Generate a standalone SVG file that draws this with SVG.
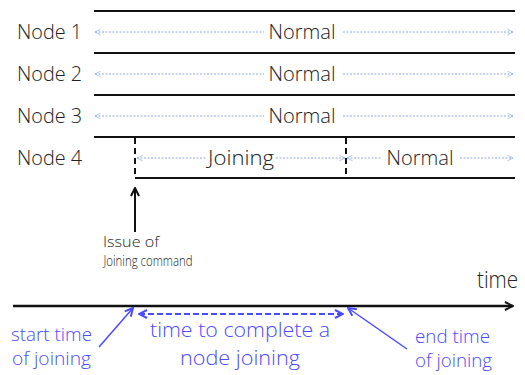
<svg xmlns="http://www.w3.org/2000/svg" width="525" height="375" viewBox="0 0 525 375">
<defs>
<style>
text{font-family:"Open Sans","Liberation Sans",sans-serif;font-weight:300}
.lbl{font-size:21px;fill:#222}
.st{font-size:21px;fill:#222;text-anchor:middle}
.sm{font-size:14px;fill:#222;text-anchor:middle}
.bl{fill:#4a4aff}
.row{stroke:#111;stroke-width:2;fill:none}
.dot{stroke:#8eaadb;stroke-width:1;stroke-dasharray:2 1.5;fill:none}
.vd{stroke:#111;stroke-width:2;stroke-dasharray:6 4;fill:none}
.blu{stroke:#4a4aff;stroke-width:1.5;fill:none}
</style>
<marker id="dh" viewBox="0 0 10 10" refX="9" refY="5" markerWidth="7" markerHeight="7" orient="auto-start-reverse" markerUnits="userSpaceOnUse">
<path d="M1,1 L9,5 L1,9" fill="none" stroke="#8eaadb" stroke-width="1"/>
</marker>
<marker id="bk" viewBox="0 0 10 10" refX="9" refY="5" markerWidth="10" markerHeight="10" orient="auto" markerUnits="userSpaceOnUse">
<path d="M1,1 L9,5 L1,9" fill="none" stroke="#111" stroke-width="2"/>
</marker>
<marker id="bb" viewBox="0 0 10 10" refX="9" refY="5" markerWidth="10" markerHeight="10" orient="auto-start-reverse" markerUnits="userSpaceOnUse">
<path d="M1,1 L9,5 L1,9" fill="none" stroke="#4a4aff" stroke-width="2"/>
</marker>
</defs>
<rect width="525" height="375" fill="#fff"/>

<g id="node1">
<text class="lbl" x="17" y="39" textLength="65" lengthAdjust="spacingAndGlyphs">Node 1</text>
<text class="st" x="302" y="39" textLength="67" lengthAdjust="spacingAndGlyphs">Normal</text>
</g>
<g id="node2">
<text class="lbl" x="17" y="81" textLength="65" lengthAdjust="spacingAndGlyphs">Node 2</text>
<text class="st" x="302" y="81" textLength="67" lengthAdjust="spacingAndGlyphs">Normal</text>
</g>
<g id="node3">
<text class="lbl" x="17" y="123" textLength="65" lengthAdjust="spacingAndGlyphs">Node 3</text>
<text class="st" x="302" y="123" textLength="67" lengthAdjust="spacingAndGlyphs">Normal</text>
</g>
<g id="node4">
<text class="lbl" x="17" y="165" textLength="65" lengthAdjust="spacingAndGlyphs">Node 4</text>
<text class="st" x="241" y="165" textLength="66" lengthAdjust="spacingAndGlyphs">Joining</text>
<text class="st" x="420" y="165" textLength="67" lengthAdjust="spacingAndGlyphs">Normal</text>
</g>
<g id="issue">
<text class="sm" x="131" y="247" textLength="56" lengthAdjust="spacingAndGlyphs">Issue of</text>
<text class="sm" x="148" y="266" textLength="89" lengthAdjust="spacingAndGlyphs">Joining command</text>
</g>
<g id="time-axis">
<text x="477" y="288" style="font-size:23px;fill:#222" textLength="41" lengthAdjust="spacingAndGlyphs">time</text>
</g>
<g id="start-label">
<text class="bl" x="11" y="341" font-size="17.5" textLength="81" lengthAdjust="spacingAndGlyphs">start time</text>
<text class="bl" x="12" y="365" font-size="17.5" textLength="79" lengthAdjust="spacingAndGlyphs">of joining</text>
</g>
<g id="duration-label">
<text class="bl" x="240" y="337" font-size="20" text-anchor="middle" textLength="180" lengthAdjust="spacingAndGlyphs">time to complete a</text>
<text class="bl" x="240" y="365" font-size="20" text-anchor="middle" textLength="120" lengthAdjust="spacingAndGlyphs">node joining</text>
</g>
<g id="end-label">
<text class="bl" x="490" y="343" font-size="17.5" text-anchor="end" textLength="75" lengthAdjust="spacingAndGlyphs">end time</text>
<text class="bl" x="492" y="367" font-size="17.5" text-anchor="end" textLength="77" lengthAdjust="spacingAndGlyphs">of joining</text>
</g>

<g id="connectors">
<line class="row" x1="94" y1="11" x2="515" y2="11"/>
<line class="row" x1="94" y1="53" x2="515" y2="53"/>
<line class="row" x1="94" y1="95" x2="515" y2="95"/>
<line class="row" x1="94" y1="137" x2="515" y2="137"/>
<line class="row" x1="135" y1="178" x2="515" y2="178"/>
<line class="vd" x1="135" y1="138" x2="135" y2="178"/>
<line class="vd" x1="346" y1="138" x2="346" y2="178"/>

<line class="dot" x1="95" y1="32" x2="264" y2="32" marker-start="url(#dh)"/>
<line class="dot" x1="343" y1="32" x2="513" y2="32" marker-end="url(#dh)"/>
<line class="dot" x1="95" y1="74" x2="264" y2="74" marker-start="url(#dh)"/>
<line class="dot" x1="343" y1="74" x2="513" y2="74" marker-end="url(#dh)"/>
<line class="dot" x1="95" y1="116" x2="264" y2="116" marker-start="url(#dh)"/>
<line class="dot" x1="343" y1="116" x2="513" y2="116" marker-end="url(#dh)"/>
<line class="dot" x1="137" y1="158" x2="206" y2="158" marker-start="url(#dh)"/>
<line class="dot" x1="276" y1="158" x2="345" y2="158" marker-end="url(#dh)"/>
<line class="dot" x1="347" y1="158" x2="381" y2="158" marker-start="url(#dh)"/>
<line class="dot" x1="460" y1="158" x2="513" y2="158" marker-end="url(#dh)"/>

<line x1="135" y1="232" x2="135" y2="188" stroke="#111" stroke-width="2" marker-end="url(#bk)"/>
<line x1="13" y1="306" x2="513" y2="306" stroke="#111" stroke-width="2.5" marker-end="url(#bk)"/>
<line x1="139" y1="314" x2="343" y2="314" stroke="#4a4aff" stroke-width="2" stroke-dasharray="6 3" marker-start="url(#bb)" marker-end="url(#bb)"/>
<line class="blu" x1="99" y1="347" x2="133" y2="308" marker-end="url(#bb)"/>
<line class="blu" x1="407" y1="349" x2="348" y2="308" marker-end="url(#bb)"/>
</g>
</svg>
